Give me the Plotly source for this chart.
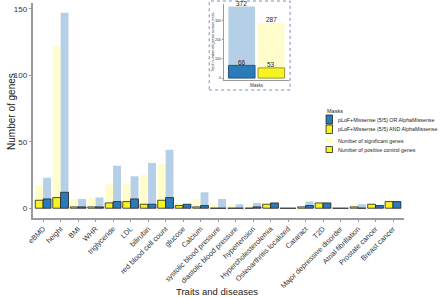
import plotly.graph_objects as go

W, H = 440, 297

traits = ["eBMD", "height", "BMI", "WHR", "triglyceride", "LDL", "bilirubin",
          "red blood cell count", "glucose", "Calcium", "systolic blood pressure",
          "diastolic blood pressure", "hypertension", "Hypercholesterolemia",
          "Osteoarthritis localized", "Cataract", "T2D", "Major depressive disorder",
          "Atrial fibrillation", "Prostate cancer", "Breast cancer"]

sig_and = [17, 122, 7, 8, 18, 18, 25, 33, 4, 7, 4, 2, 2, 3, 0, 1, 4, 0, 3, 3, 5]
sig_or = [23, 147, 7, 8, 32, 24, 34, 44, 3, 12, 7, 3, 4, 4, 0, 5, 4, 0, 3, 2, 5]
pc_and = [6, 8, 1, 1, 4, 5, 3, 6, 2, 1, 0, 0, 0, 3, 0, 1, 4, 0, 1, 3, 5]
pc_or = [7, 12, 1, 1, 5, 7, 3, 8, 3, 2, 0, 0, 1, 4, 0, 2, 4, 0, 0, 2, 5]

masks = ["pLoF+Missense (5/5) OR AlphaMissense", "pLoF+Missense (5/5) AND AlphaMissense"]
total_sig = [372, 287]
total_pc = [66, 53]

C_BLUE = "#2b7bba"
C_YEL = "#f7f31e"
C_LBLUE = "#b5cfe6"
C_LYEL = "#fffdcc"

def px(x):
    return x / W

def py(y):
    return 1 - y / H

fig = go.Figure()
bw = 0.45
# main chart
fig.add_trace(go.Bar(x=traits, y=sig_and, offset=-bw, width=bw, marker=dict(color=C_LYEL, line=dict(width=0)), showlegend=False))
fig.add_trace(go.Bar(x=traits, y=sig_or, offset=0, width=bw, marker=dict(color=C_LBLUE, line=dict(width=0)), showlegend=False))
fig.add_trace(go.Bar(x=traits, y=pc_and, offset=-bw, width=bw, marker=dict(color=C_YEL, line=dict(width=0.8, color="#222")), showlegend=False))
fig.add_trace(go.Bar(x=traits, y=pc_or, offset=0, width=bw, marker=dict(color=C_BLUE, line=dict(width=0.8, color="#222")), showlegend=False))

# inset
fig.add_trace(go.Bar(x=masks, y=total_sig, width=0.9, marker=dict(color=[C_LBLUE, C_LYEL], line=dict(width=0)),
                     xaxis="x2", yaxis="y2", showlegend=False))
fig.add_trace(go.Bar(x=masks, y=total_pc, width=0.9, marker=dict(color=[C_BLUE, C_YEL], line=dict(width=0.9, color=["#1d4f7a", "#8c8a3a"])),
                     xaxis="x2", yaxis="y2", showlegend=False))

axis_col = "#9a9a9a"
fig.update_layout(
    width=W, height=H, margin=dict(l=0, r=0, t=0, b=0),
    paper_bgcolor="white", plot_bgcolor="rgba(0,0,0,0)",
    barmode="overlay",
    font=dict(family="Liberation Sans, Arial, sans-serif", color="#333"),
    xaxis=dict(domain=[px(27), px(403)], range=[-0.6, 20.6], tickangle=-45,
               tickfont=dict(size=7.3, color="#333"), showline=True, linecolor=axis_col, linewidth=1.6,
               ticks="outside", ticklen=2, tickcolor=axis_col, showgrid=False, zeroline=False, anchor="y"),
    yaxis=dict(domain=[py(218), py(3)], range=[-7.35, 154.35], tickvals=[0, 50, 100, 150],
               tickfont=dict(size=8, color="#333"), showline=True, linecolor=axis_col, linewidth=1.6,
               ticks="outside", ticklen=2, tickcolor=axis_col, showgrid=False, zeroline=False, anchor="x"),
    xaxis2=dict(domain=[px(221), px(287)], range=[-0.6, 1.6], showticklabels=False, ticks="",
                showline=True, linecolor=axis_col, linewidth=1, showgrid=False, zeroline=False, anchor="y2"),
    yaxis2=dict(domain=[py(80), py(4)], range=[-10, 385], tickvals=[0, 100, 200, 300],
                tickfont=dict(size=3.8, color="#444"), showline=True, linecolor=axis_col, linewidth=1,
                ticks="outside", ticklen=1, tickcolor=axis_col, showgrid=False, zeroline=False, anchor="x2"),
)

anns = []
shapes = []
# inset value labels
for m, v in zip(masks, total_sig):
    anns.append(dict(text=str(v), x=m, y=v, xref="x2", yref="y2", showarrow=False, yshift=3,
                     font=dict(size=6.5, color="#222"), xanchor="center", yanchor="middle"))
for m, v in zip(masks, total_pc):
    anns.append(dict(text=str(v), x=m, y=v, xref="x2", yref="y2", showarrow=False, yshift=3,
                     font=dict(size=6.5, color="#222"), xanchor="center", yanchor="middle"))
# axis titles
anns.append(dict(text="Number of genes", x=px(6), y=py(111), xref="paper", yref="paper", textangle=-90,
                 showarrow=False, font=dict(size=10, color="#222"), xanchor="center", yanchor="middle"))
anns.append(dict(text="Traits and diseases", x=px(214), y=py(291), xref="paper", yref="paper",
                 showarrow=False, font=dict(size=9.5, color="#222"), xanchor="center", yanchor="middle"))
# inset titles
anns.append(dict(text="Masks", x=px(254), y=py(85.5), xref="paper", yref="paper",
                 showarrow=False, font=dict(size=4.5, color="#333"), xanchor="center", yanchor="middle"))
anns.append(dict(text="Total number of genes across traits", x=px(209.5), y=py(42), xref="paper", yref="paper",
                 textangle=-90, showarrow=False, font=dict(size=3.8, color="#333"), xanchor="center", yanchor="middle"))
# inset border
shapes.append(dict(type="rect", xref="paper", yref="paper", x0=px(206), x1=px(288), y0=py(90), y1=py(1),
                   line=dict(color="#7d8fb3", width=1, dash="dot")))

# legend
anns.append(dict(text="Masks", x=px(323), y=py(110.5), xref="paper", yref="paper",
                 showarrow=False, font=dict(size=5.5, color="#222"), xanchor="left", yanchor="middle"))
leg = [
    (115, 124, C_BLUE, "#222", 0.8, masks[0], 120),
    (125, 133.5, C_YEL, "#222", 0.8, masks[1], 129),
    (138, 143, C_LYEL, C_LYEL, 0, "Number of significant genes", 140.5),
    (146.5, 152.5, C_YEL, "#222", 0.8, "Number of positive control genes", 149.5),
]
for y0, y1, fc, lc, lw, label, ty in leg:
    shapes.append(dict(type="rect", xref="paper", yref="paper", x0=px(324.5), x1=px(331), y0=py(y1), y1=py(y0),
                       fillcolor=fc, line=dict(color=lc, width=lw)))
    anns.append(dict(text=label, x=px(334.5), y=py(ty), xref="paper", yref="paper",
                     showarrow=False, font=dict(size=5.3, color="#222"), xanchor="left", yanchor="middle"))

fig.update_layout(annotations=anns, shapes=shapes)
fig.write_html("out.html", config={"displayModeBar": False},
               post_script="document.body.style.margin='0';document.body.style.padding='0';")
